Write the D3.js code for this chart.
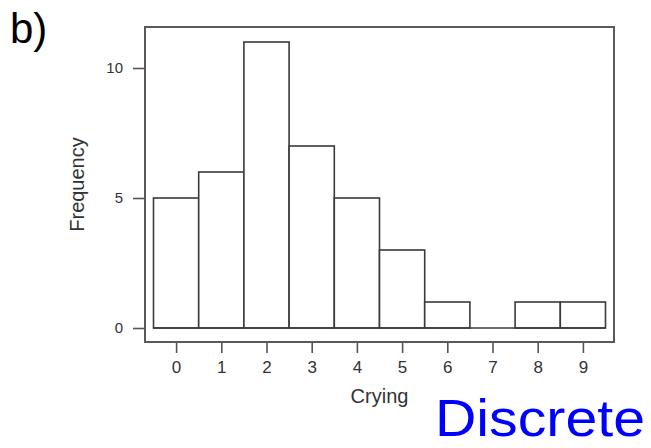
<!DOCTYPE html>
<html>
<head>
<meta charset="utf-8">
<script src="https://cdn.jsdelivr.net/npm/d3@7"></script>
<style>
  html, body { margin: 0; padding: 0; background: #fff; }
  svg { display: block; font-family: "Liberation Sans", Arial, sans-serif; }
</style>
</head>
<body>
<svg id="chart" width="651" height="448"></svg>
<script>
// Data
const categories = [0, 1, 2, 3, 4, 5, 6, 7, 8, 9];
const frequencies = [5, 6, 11, 7, 5, 3, 1, 0, 1, 1];
const yTicks = [0, 5, 10];
const xLabel = "Crying";
const yLabel = "Frequency";
const panelLabel = "b)";
const noteLabel = "Discrete";

const svg = d3.select("#chart");

const frame = { left: 145, right: 614, top: 27, bottom: 342 };

const x = d3.scaleLinear().domain([-0.5, 9.5]).range([153.5, 605.5]);
const y = d3.scaleLinear().domain([0, 10]).range([328, 68]);

// Bars
svg.append("g").selectAll("rect")
  .data(categories.map((c, i) => ({ c, v: frequencies[i] })).filter(d => d.v > 0))
  .join("rect")
  .attr("x", d => x(d.c - 0.5))
  .attr("width", d => x(d.c + 0.5) - x(d.c - 0.5))
  .attr("y", d => y(d.v))
  .attr("height", d => y(0) - y(d.v))
  .attr("fill", "#fff")
  .attr("stroke", "#3a3a3a")
  .attr("stroke-width", 1.6);

// Baseline across all bins
svg.append("line")
  .attr("x1", x(-0.5)).attr("x2", x(9.5))
  .attr("y1", y(0)).attr("y2", y(0))
  .attr("stroke", "#3a3a3a").attr("stroke-width", 1.6);

// Frame
svg.append("rect")
  .attr("x", frame.left).attr("y", frame.top)
  .attr("width", frame.right - frame.left)
  .attr("height", frame.bottom - frame.top)
  .attr("fill", "none")
  .attr("stroke", "#5a5a5a")
  .attr("stroke-width", 2);

// Y axis
const yAxis = d3.axisLeft(y).tickValues(yTicks).tickSize(12).tickPadding(10).tickSizeOuter(0);
const gy = svg.append("g").attr("transform", `translate(${frame.left},0)`).call(yAxis);
gy.select(".domain").remove();
gy.selectAll(".tick line").attr("stroke", "#555").attr("stroke-width", 1.6);
gy.selectAll(".tick text").attr("fill", "#333").style("font-size", "15px")
  .style("font-family", "'Liberation Sans', Arial, sans-serif");

// X axis
const xAxis = d3.axisBottom(x).tickValues(categories).tickSize(11).tickPadding(8).tickSizeOuter(0);
const gx = svg.append("g").attr("transform", `translate(0,${frame.bottom})`).call(xAxis);
gx.select(".domain").remove();
gx.selectAll(".tick line").attr("stroke", "#555").attr("stroke-width", 1.6);
gx.selectAll(".tick text").attr("fill", "#333").style("font-size", "17px")
  .style("font-family", "'Liberation Sans', Arial, sans-serif");

// Axis titles
svg.append("text")
  .attr("x", (frame.left + frame.right) / 2)
  .attr("y", 403)
  .attr("text-anchor", "middle")
  .attr("fill", "#333")
  .style("font-size", "20px")
  .text(xLabel);

svg.append("text")
  .attr("transform", `translate(84,${(frame.top + frame.bottom) / 2}) rotate(-90)`)
  .attr("text-anchor", "middle")
  .attr("fill", "#333")
  .style("font-size", "20px")
  .text(yLabel);

// Panel label
svg.append("text")
  .attr("x", 10).attr("y", 43)
  .attr("fill", "#000")
  .style("font-size", "42px")
  .text(panelLabel);

// Note
svg.append("text")
  .attr("x", 435).attr("y", 436)
  .attr("fill", "#0000ff")
  .style("font-size", "52px")
  .attr("textLength", 210)
  .attr("lengthAdjust", "spacingAndGlyphs")
  .text(noteLabel);
</script>
</body>
</html>
